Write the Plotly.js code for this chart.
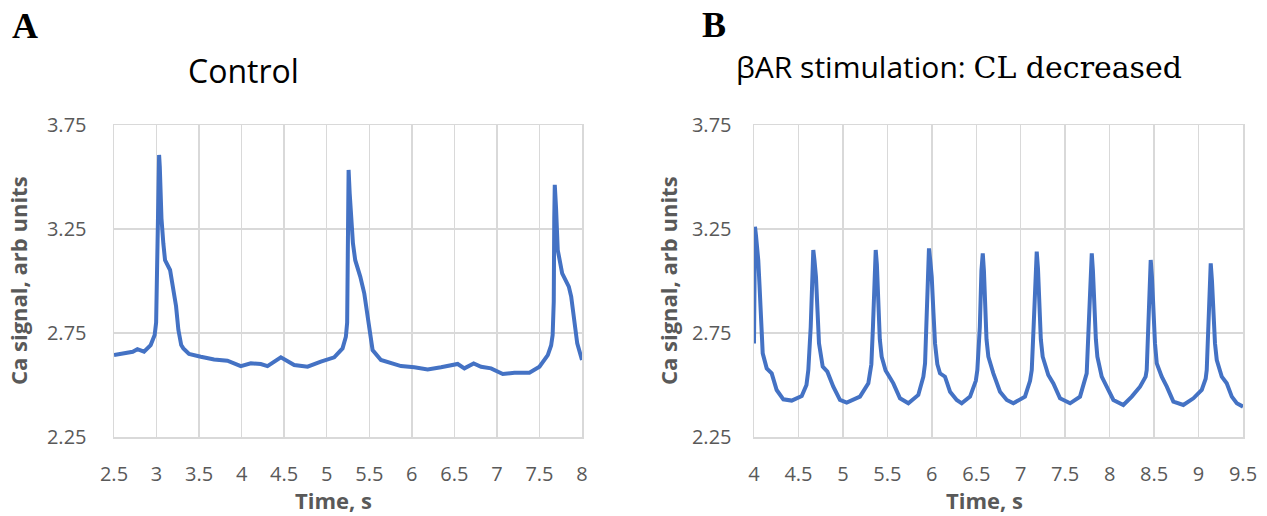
<!DOCTYPE html>
<html>
<head>
<meta charset="utf-8">
<script src="https://cdn.plot.ly/plotly-3.0.1.min.js"></script>
<style>html,body{margin:0;padding:0;background:#fff;}#chart{width:1267px;height:516px;}</style>
</head>
<body>
<div id="chart"></div>
<script>
// Panel A (Control): time (s) and Ca signal (arb units)
const timeA = [2.500,2.560,2.657,2.720,2.775,2.853,2.931,2.978,2.995,3.005,3.015,3.022,3.030,3.038,3.045,3.058,3.080,3.100,3.159,3.179,3.198,3.229,3.257,3.290,3.315,3.382,3.520,3.676,3.833,3.990,4.108,4.225,4.304,4.461,4.618,4.775,4.931,5.088,5.186,5.225,5.240,5.248,5.252,5.257,5.263,5.270,5.284,5.308,5.335,5.394,5.441,5.473,5.500,5.539,5.637,5.873,6.029,6.186,6.343,6.539,6.618,6.727,6.814,6.931,7.069,7.206,7.382,7.500,7.598,7.637,7.655,7.668,7.674,7.680,7.687,7.695,7.708,7.715,7.767,7.845,7.873,7.912,7.944,8.000];
const caA = [2.644,2.648,2.652,2.660,2.672,2.660,2.692,2.740,2.800,3.000,3.300,3.520,3.606,3.550,3.450,3.300,3.180,3.100,3.053,3.005,2.960,2.880,2.764,2.692,2.676,2.649,2.636,2.623,2.617,2.591,2.604,2.601,2.591,2.633,2.596,2.588,2.612,2.633,2.676,2.732,2.800,3.100,3.420,3.534,3.480,3.420,3.341,3.181,3.100,3.021,2.941,2.845,2.764,2.668,2.620,2.591,2.585,2.575,2.585,2.601,2.580,2.604,2.588,2.580,2.553,2.559,2.559,2.588,2.644,2.690,2.740,2.900,3.300,3.462,3.410,3.350,3.261,3.149,3.037,2.973,2.925,2.797,2.700,2.620];

// Panel B (βAR stimulation)
const timeB = [4.000,4.006,4.011,4.022,4.035,4.048,4.062,4.075,4.098,4.143,4.170,4.199,4.255,4.330,4.424,4.537,4.590,4.611,4.638,4.652,4.667,4.680,4.697,4.715,4.731,4.773,4.800,4.825,4.892,4.967,5.043,5.192,5.286,5.320,5.338,5.355,5.369,5.382,5.398,5.415,5.436,5.480,5.511,5.567,5.642,5.736,5.848,5.905,5.924,5.940,5.955,5.968,5.982,5.999,6.018,6.036,6.062,6.092,6.148,6.205,6.280,6.336,6.430,6.495,6.512,6.540,6.558,6.573,6.586,6.598,6.615,6.636,6.692,6.767,6.843,6.917,7.048,7.105,7.124,7.145,7.165,7.180,7.194,7.209,7.226,7.247,7.310,7.367,7.442,7.555,7.667,7.742,7.762,7.784,7.799,7.812,7.828,7.845,7.862,7.911,7.967,8.042,8.154,8.249,8.342,8.405,8.417,8.435,8.450,8.462,8.476,8.492,8.510,8.530,8.586,8.643,8.717,8.829,8.942,9.036,9.080,9.092,9.110,9.125,9.137,9.151,9.166,9.185,9.205,9.261,9.317,9.374,9.430,9.500];
const caB = [2.700,3.100,3.261,3.220,3.160,3.100,2.980,2.860,2.652,2.580,2.570,2.556,2.476,2.431,2.425,2.447,2.500,2.572,2.780,3.050,3.149,3.100,3.020,2.850,2.700,2.588,2.575,2.564,2.492,2.428,2.415,2.444,2.508,2.600,2.780,3.050,3.149,3.080,2.860,2.720,2.636,2.570,2.548,2.508,2.436,2.412,2.452,2.540,2.604,2.800,3.080,3.157,3.100,3.020,2.850,2.700,2.600,2.556,2.540,2.468,2.428,2.412,2.444,2.520,2.572,2.780,3.050,3.133,3.050,2.860,2.720,2.636,2.556,2.468,2.428,2.412,2.444,2.520,2.572,2.780,3.050,3.141,3.060,2.860,2.720,2.636,2.548,2.508,2.436,2.412,2.444,2.556,2.760,3.050,3.133,3.050,2.860,2.720,2.636,2.540,2.492,2.428,2.404,2.444,2.492,2.540,2.572,2.780,3.020,3.101,3.020,2.860,2.700,2.604,2.540,2.492,2.420,2.404,2.436,2.476,2.530,2.572,2.780,3.000,3.085,3.000,2.860,2.700,2.620,2.540,2.508,2.444,2.412,2.396];

const yTickVals = [2.25, 2.75, 3.25, 3.75];
const yTickText = ["2.25", "2.75", "3.25", "3.75"];
const xRangeA = [2.5, 8];
const xRangeB = [4, 9.5];

const W = 1267, H = 516;
const px = v => v / W;
const py = v => 1 - v / H;

const lineStyle = {color: '#4472C4', width: 4, shape: 'linear'};
const traces = [
  {x: timeA, y: caA, type: 'scatter', mode: 'lines', line: lineStyle, xaxis: 'x', yaxis: 'y', hoverinfo: 'x+y'},
  {x: timeB, y: caB, type: 'scatter', mode: 'lines', line: lineStyle, xaxis: 'x2', yaxis: 'y2', hoverinfo: 'x+y'}
];

const tickFont = {family: 'Open Sans, sans-serif', size: 20, color: '#595959'};
const gridC = '#D9D9D9';
function xax(domain, range, anchor) {
  return {domain: domain, range: range, dtick: 0.5, tick0: 0, anchor: anchor,
    showgrid: true, gridcolor: gridC, gridwidth: 1.5, zeroline: false,
    showline: true, linecolor: gridC, linewidth: 1.5, mirror: true,
    ticks: '', tickfont: tickFont, ticklabelstandoff: 18, fixedrange: true};
}
function yax(range, anchor, standoff) {
  return {domain: [py(437), py(125)], range: range, tickvals: yTickVals, ticktext: yTickText, anchor: anchor,
    showgrid: true, gridcolor: gridC, gridwidth: 1.5, zeroline: false,
    showline: true, linecolor: gridC, linewidth: 1.5, mirror: true,
    ticks: '', tickfont: tickFont, ticklabelstandoff: standoff, fixedrange: true};
}

const axTitleFont = {family: 'Open Sans, sans-serif', size: 22, color: '#595959', weight: 'bold'};
const titleFont = {family: 'Open Sans, sans-serif', size: 32, color: '#000000'};
const titleFontB = {family: 'Open Sans, sans-serif', size: 30, color: '#000000'};
const letterFont = {family: 'Liberation Serif, Times New Roman, serif', size: 36, color: '#000000', weight: 'bold'};

const ann = (text, x, y, font, extra) => Object.assign({text: text, x: px(x), y: py(y), xref: 'paper', yref: 'paper',
  showarrow: false, font: font, xanchor: 'center', yanchor: 'middle'}, extra || {});

const annotations = [
  ann('<b>A</b>', 25, 26, letterFont),
  ann('<b>B</b>', 714, 25, letterFont),
  ann('Control', 243, 70, titleFont),
  ann('βAR stimulation: <span style="font-family:\'DejaVu Serif\', serif;">CL decreased</span>', 734, 66, titleFontB, {xanchor: 'left'}),
  ann('<b>Ca signal, arb units</b>', 18, 281, axTitleFont, {textangle: -90}),
  ann('<b>Ca signal, arb units</b>', 668, 281, axTitleFont, {textangle: -90}),
  ann('<b>Time, s</b>', 333, 500, axTitleFont),
  ann('<b>Time, s</b>', 984, 500, axTitleFont)
];

const layout = {
  width: W, height: H,
  margin: {l: 0, r: 0, t: 0, b: 0},
  paper_bgcolor: '#ffffff', plot_bgcolor: '#ffffff',
  showlegend: false,
  xaxis: xax([px(114), px(582)], xRangeA, 'y'),
  yaxis: yax([2.25, 3.75], 'x', 22),
  xaxis2: xax([px(754), px(1243)], xRangeB, 'y2'),
  yaxis2: yax([2.25, 3.75], 'x2', 17),
  annotations: annotations
};

Plotly.newPlot('chart', traces, layout, {displayModeBar: false, staticPlot: true});
</script>
</body>
</html>
